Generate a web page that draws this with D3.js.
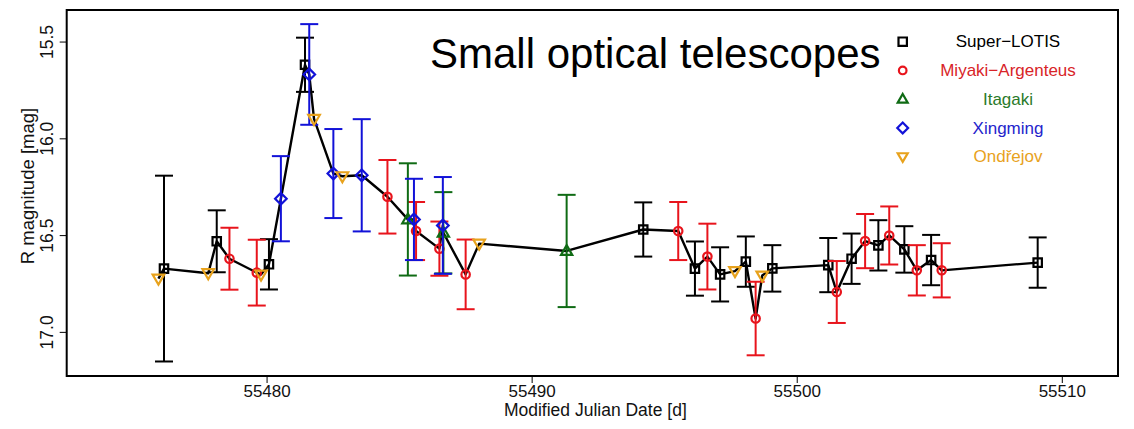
<!DOCTYPE html>
<html>
<head>
<meta charset="utf-8">
<script src="https://cdn.jsdelivr.net/npm/d3@7"></script>
<style>
  html, body { margin: 0; padding: 0; background: #fff; }
  svg { display: block; font-family: "Liberation Sans", Arial, Helvetica, sans-serif; }
</style>
</head>
<body>
<svg id="chart" width="1134" height="429"></svg>
<script>
// ---- light curve data: MJD, R magnitude, 1-sigma error ----
const superLotisMjd = [55476.13, 55478.12, 55480.09, 55481.45, 55494.21, 55496.16, 55497.11, 55498.08, 55499.08, 55501.19, 55502.07, 55503.08, 55504.06, 55505.07, 55509.09];
const superLotisMag = [16.673, 16.532, 16.651, 15.620, 16.471, 16.673, 16.703, 16.637, 16.672, 16.655, 16.622, 16.553, 16.574, 16.629, 16.642];
const superLotisErr = [0.48, 0.16, 0.13, 0.14, 0.14, 0.14, 0.14, 0.13, 0.12, 0.14, 0.13, 0.13, 0.12, 0.13, 0.13];

const miyakiMjd = [55478.60, 55479.63, 55484.56, 55485.64, 55486.52, 55487.51, 55495.53, 55496.63, 55498.45, 55501.51, 55502.58, 55503.49, 55504.53, 55505.47];
const miyakiMag = [16.622, 16.694, 16.302, 16.479, 16.570, 16.703, 16.479, 16.611, 16.931, 16.794, 16.531, 16.502, 16.682, 16.682];
const miyakiErr = [0.16, 0.17, 0.19, 0.15, 0.14, 0.18, 0.15, 0.17, 0.19, 0.16, 0.14, 0.15, 0.13, 0.14];

const itagakiMjd = [55485.33, 55486.67, 55491.32];
const itagakiMag = [16.419, 16.488, 16.582];
const itagakiErr = [0.29, 0.21, 0.29];

const xingmingMjd = [55480.54, 55481.61, 55482.52, 55483.59, 55485.56, 55486.65];
const xingmingMag = [16.312, 15.670, 16.182, 16.191, 16.419, 16.450];
const xingmingErr = [0.22, 0.26, 0.23, 0.29, 0.21, 0.25];

const ondrejovMjd = [55475.92, 55477.80, 55479.79, 55481.79, 55482.86, 55488.02, 55497.67, 55498.70];
const ondrejovMag = [16.725, 16.697, 16.704, 15.900, 16.196, 16.544, 16.686, 16.709];

const xTicks = [55480, 55490, 55500, 55510];
const yTicks = [15.5, 16.0, 16.5, 17.0];
const yTickLabels = ["15.5", "16.0", "16.5", "17.0"];

const titleText = "Small optical telescopes";
const xTitle = "Modified Julian Date [d]";
const yTitle = "R magnitude [mag]";

// ---- instrument definitions ----
const instruments = [
  { name: "Super\u2212LOTIS", shape: "square", color: "#000000", text: "#000000", mjd: superLotisMjd, mag: superLotisMag, err: superLotisErr },
  { name: "Miyaki\u2212Argenteus", shape: "circle", color: "#e8141c", text: "#d82428", mjd: miyakiMjd, mag: miyakiMag, err: miyakiErr },
  { name: "Itagaki", shape: "triangle", color: "#0f6b14", text: "#2a7a2a", mjd: itagakiMjd, mag: itagakiMag, err: itagakiErr },
  { name: "Xingming", shape: "diamond", color: "#1212d8", text: "#2424cc", mjd: xingmingMjd, mag: xingmingMag, err: xingmingErr },
  { name: "Ond\u0159ejov", shape: "triangleDown", color: "#e8a21c", text: "#e8a21c", mjd: ondrejovMjd, mag: ondrejovMag, err: null }
];

// ---- layout ----
const frame = { left: 66.7, right: 1118, top: 10, bottom: 376 };

const svg = d3.select("#chart");

const x = d3.scaleLinear().domain([55472.46, 55512.12]).range([frame.left, frame.right]);
const y = d3.scaleLinear().domain([15.337, 17.228]).range([frame.top, frame.bottom]);

// open marker outlines, s = half size
function markerPath(shape, s) {
  switch (shape) {
    case "square":
      return `M${-s},${-s}H${s}V${s}H${-s}Z`;
    case "circle":
      return `M${s},0A${s},${s} 0 1,1 ${-s},0A${s},${s} 0 1,1 ${s},0Z`;
    case "triangle": {
      const h = s * 1.732;
      return `M0,${-h * 0.6}L${s},${h * 0.4}L${-s},${h * 0.4}Z`;
    }
    case "triangleDown": {
      const h = s * 1.732;
      return `M0,${h * 0.6}L${s},${-h * 0.4}L${-s},${-h * 0.4}Z`;
    }
    case "diamond":
      return `M0,${-s}L${s},0L0,${s}L${-s},0Z`;
  }
}
const plotSize = { square: 4.2, circle: 4.2, triangle: 5.6, triangleDown: 5.8, diamond: 5.8 };
const legendSize = { square: 4.2, circle: 3.8, triangle: 5, triangleDown: 5, diamond: 5.4 };

// ---- connecting line through all observations in time order ----
const allPoints = [];
instruments.forEach(inst => inst.mjd.forEach((t, i) => allPoints.push({ t: t, m: inst.mag[i] })));
allPoints.sort((a, b) => a.t - b.t);

svg.append("path")
  .datum(allPoints)
  .attr("fill", "none")
  .attr("stroke", "#000")
  .attr("stroke-width", 2.4)
  .attr("stroke-linejoin", "round")
  .attr("d", d3.line().x(d => x(d.t)).y(d => y(d.m)));

// ---- error bars and markers per instrument ----
const capHalf = 9;
instruments.forEach(inst => {
  const pts = inst.mjd.map((t, i) => ({ t: t, m: inst.mag[i], e: inst.err ? inst.err[i] : null }));
  const g = svg.append("g");
  if (inst.err) {
    const eb = g.selectAll("g.eb").data(pts).enter().append("g")
      .attr("stroke", inst.color).attr("stroke-width", 2).attr("fill", "none");
    eb.append("line")
      .attr("x1", d => x(d.t)).attr("x2", d => x(d.t))
      .attr("y1", d => y(d.m - d.e)).attr("y2", d => y(d.m + d.e));
    eb.append("line")
      .attr("x1", d => x(d.t) - capHalf).attr("x2", d => x(d.t) + capHalf)
      .attr("y1", d => y(d.m - d.e)).attr("y2", d => y(d.m - d.e));
    eb.append("line")
      .attr("x1", d => x(d.t) - capHalf).attr("x2", d => x(d.t) + capHalf)
      .attr("y1", d => y(d.m + d.e)).attr("y2", d => y(d.m + d.e));
  }
  g.selectAll("path.mk").data(pts).enter().append("path")
    .attr("transform", d => `translate(${x(d.t)},${y(d.m)})`)
    .attr("d", markerPath(inst.shape, plotSize[inst.shape]))
    .attr("fill", "none")
    .attr("stroke", inst.color)
    .attr("stroke-width", 2.2);
});

// ---- frame ----
svg.append("rect")
  .attr("x", frame.left).attr("y", frame.top)
  .attr("width", frame.right - frame.left).attr("height", frame.bottom - frame.top)
  .attr("fill", "none").attr("stroke", "#000").attr("stroke-width", 2);

// ---- axes ----
const xAxis = svg.append("g")
  .attr("transform", `translate(0,${frame.bottom})`)
  .call(d3.axisBottom(x).tickValues(xTicks).tickFormat(d3.format("d")).tickSize(7).tickSizeOuter(0).tickPadding(2));
xAxis.select(".domain").remove();
xAxis.selectAll("line").attr("stroke", "#000").attr("stroke-width", 1);
xAxis.selectAll("text").attr("font-size", "17px").attr("fill", "#111").attr("font-family", "Liberation Sans, Arial, sans-serif");

const yAxis = svg.append("g")
  .attr("transform", `translate(${frame.left},0)`)
  .call(d3.axisLeft(y).tickValues(yTicks).tickFormat((d, i) => yTickLabels[i]).tickSize(7).tickSizeOuter(0));
yAxis.select(".domain").remove();
yAxis.selectAll("line").attr("stroke", "#000").attr("stroke-width", 1);
yAxis.selectAll("text")
  .attr("x", null).attr("dy", null)
  .attr("transform", "translate(-13.7,0) rotate(-90)")
  .attr("text-anchor", "middle")
  .attr("font-size", "17.5px").attr("fill", "#111").attr("font-family", "Liberation Sans, Arial, sans-serif");

// axis titles
svg.append("text")
  .attr("x", (frame.left + frame.right) / 2 + 3).attr("y", 416)
  .attr("text-anchor", "middle").attr("font-size", "17.5px").attr("fill", "#111")
  .text(xTitle);

svg.append("text")
  .attr("transform", `translate(33.5,186) rotate(-90)`)
  .attr("text-anchor", "middle").attr("font-size", "18.5px").attr("fill", "#111")
  .text(yTitle);

// ---- title ----
svg.append("text")
  .attr("x", 430).attr("y", 67.7)
  .attr("font-size", "42px").attr("fill", "#000")
  .text(titleText);

// ---- legend ----
const legendX = 902.7, legendTextX = 1008, legendY0 = 41.7, legendDy = 28.75;
const leg = svg.append("g");
instruments.forEach((inst, i) => {
  const ly = legendY0 + i * legendDy;
  leg.append("path")
    .attr("transform", `translate(${legendX},${ly})`)
    .attr("d", markerPath(inst.shape, legendSize[inst.shape]))
    .attr("fill", "none").attr("stroke", inst.color).attr("stroke-width", 2.2);
  leg.append("text")
    .attr("x", legendTextX).attr("y", ly + 5.6)
    .attr("text-anchor", "middle").attr("font-size", "17px").attr("fill", inst.text)
    .text(inst.name);
});
</script>
</body>
</html>
